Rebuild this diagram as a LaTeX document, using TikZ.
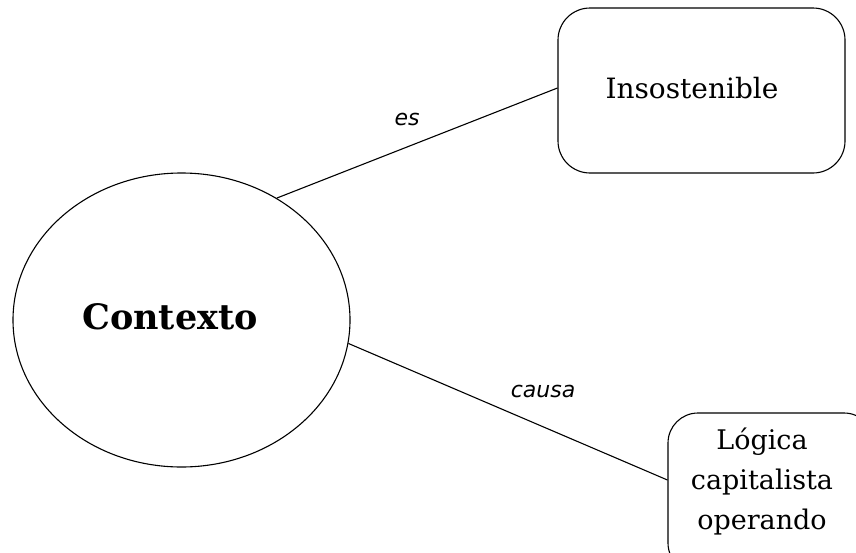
\documentclass[tikz,border=0pt]{standalone}
\usepackage{fontspec}
\setmainfont{DejaVu Serif}
\newfontfamily\lblfont{DejaVu Sans}
\usetikzlibrary{shapes.geometric}
\begin{document}
\begin{tikzpicture}[x=1pt,y=-1pt,
  ell/.style={draw, ellipse, line width=1.1pt, minimum width=337pt, minimum height=294pt, inner sep=0pt},
  rbox/.style={draw, rectangle, rounded corners=32pt, line width=1.1pt, inner sep=0pt},
  boxtext/.style={inner sep=0pt, align=center, font=\fontsize{27}{40}\selectfont},
  edgelabel/.style={inner sep=0pt, font=\lblfont\itshape\fontsize{22}{26}\selectfont},
  conn/.style={line width=1.1pt}]
\clip (0,0) rectangle (856,552);
\fill[white] (0,0) rectangle (856,552);
% central ellipse
\node[ell] (ctx) at (181.5,320) {};
\node[inner sep=0pt, font=\bfseries\fontsize{35}{42}\selectfont] (ctxt) at (170,317) {Contexto};
% top box
\node[rbox, minimum width=287pt, minimum height=165pt] (box1) at (701.5,90.5) {};
\node[boxtext, font=\fontsize{28}{34}\selectfont] (t1) at (692,88) {Insostenible};
% bottom box (cut by the page edge)
\node[rbox, rounded corners=30pt, minimum width=206pt, minimum height=160pt] (box2) at (771,493) {};
\node[boxtext] (t2) at (762,482) {Lógica\\capitalista\\operando};
% connectors
\draw[conn] (ctx.52) -- ([yshift=2.5pt]box1.west);
\draw[conn] (ctx.-8.5) -- ([yshift=13pt]box2.west);
% connector labels
\node[edgelabel] (les) at (407,119) {es};
\node[edgelabel] (lcausa) at (543,391) {causa};
\end{tikzpicture}
\end{document}
